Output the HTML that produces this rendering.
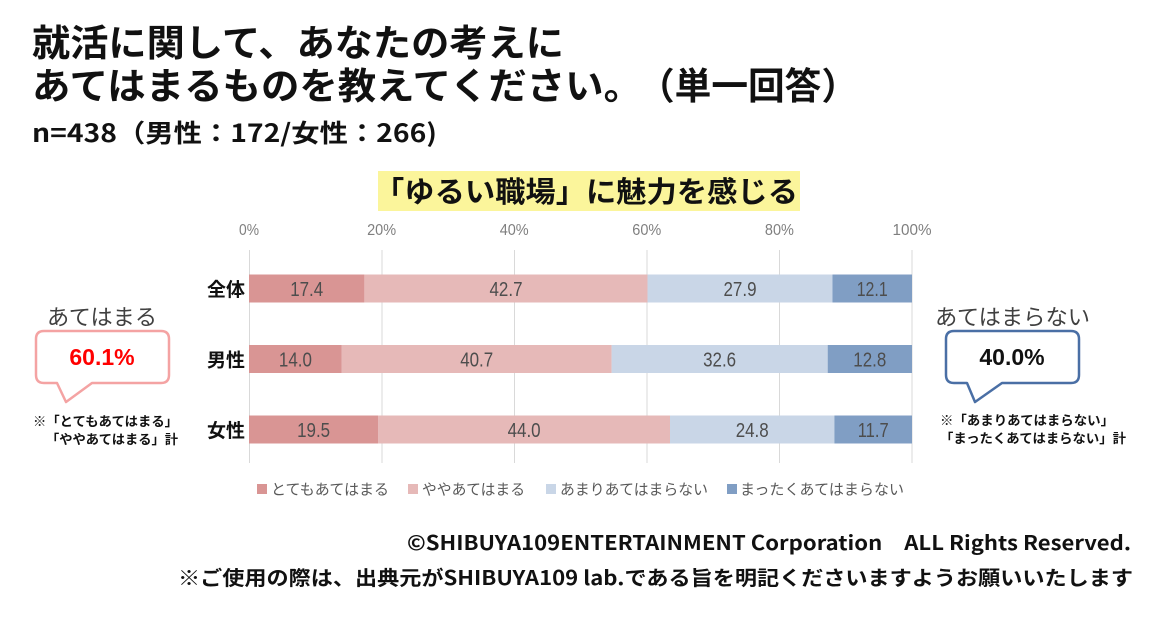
<!DOCTYPE html>
<html lang="ja">
<head>
<meta charset="utf-8">
<style>
  html,body{margin:0;padding:0;background:#fff;}
  svg{display:block;}
  .jp{font-family:"Noto Sans CJK JP","Liberation Sans",sans-serif;}
  .num{font-family:"Liberation Sans",sans-serif;}
</style>
</head>
<body>
<svg width="1160" height="624" viewBox="0 0 1160 624" xmlns="http://www.w3.org/2000/svg">
  <rect width="1160" height="624" fill="#ffffff"/>

  <!-- Title -->
  <text class="jp" x="32" y="56" font-size="37" font-weight="bold" fill="#111" textLength="532" lengthAdjust="spacingAndGlyphs">就活に関して、あなたの考えに</text>
  <text class="jp" x="32" y="99" font-size="37" font-weight="bold" fill="#111" textLength="610" lengthAdjust="spacingAndGlyphs">あてはまるものを教えてください。</text>
  <text class="jp" x="638" y="99" font-size="37" font-weight="bold" fill="#111" textLength="220" lengthAdjust="spacingAndGlyphs">（単一回答）</text>
  <text class="jp" x="32" y="142" font-size="25" font-weight="bold" fill="#111" textLength="405" lengthAdjust="spacingAndGlyphs">n=438（男性：172/女性：266)</text>

  <!-- Subtitle highlight -->
  <rect x="378" y="171" width="422" height="40" fill="#fbf59b"/>
  <text class="jp" x="374" y="202" font-size="29" font-weight="bold" fill="#111" textLength="424" lengthAdjust="spacingAndGlyphs">「ゆるい職場」に魅力を感じる</text>

  <!-- Tick labels -->
  <g class="num" font-size="16" fill="#7f7f7f" text-anchor="middle">
    <text x="249" y="235" textLength="20" lengthAdjust="spacingAndGlyphs">0%</text>
    <text x="381.6" y="235" textLength="29" lengthAdjust="spacingAndGlyphs">20%</text>
    <text x="514.2" y="235" textLength="29" lengthAdjust="spacingAndGlyphs">40%</text>
    <text x="646.8" y="235" textLength="29" lengthAdjust="spacingAndGlyphs">60%</text>
    <text x="779.4" y="235" textLength="29" lengthAdjust="spacingAndGlyphs">80%</text>
    <text x="912" y="235" textLength="39" lengthAdjust="spacingAndGlyphs">100%</text>
  </g>

  <!-- Gridlines -->
  <g stroke="#d9d9d9" stroke-width="1">
    <line x1="249.5" y1="250" x2="249.5" y2="463"/>
    <line x1="382" y1="250" x2="382" y2="463"/>
    <line x1="514.5" y1="250" x2="514.5" y2="463"/>
    <line x1="647" y1="250" x2="647" y2="463"/>
    <line x1="779.5" y1="250" x2="779.5" y2="463"/>
    <line x1="912" y1="250" x2="912" y2="463"/>
  </g>

  <!-- Bars: 全体 -->
  <rect x="249" y="274.5" width="115.4" height="28" fill="#d99594"/>
  <rect x="364.4" y="274.5" width="283.1" height="28" fill="#e6b9b8"/>
  <rect x="647.5" y="274.5" width="185" height="28" fill="#c9d6e7"/>
  <rect x="832.5" y="274.5" width="79.5" height="28" fill="#809ec4"/>
  <!-- 男性 -->
  <rect x="249" y="345" width="92.8" height="28" fill="#d99594"/>
  <rect x="341.8" y="345" width="269.8" height="28" fill="#e6b9b8"/>
  <rect x="611.6" y="345" width="216.1" height="28" fill="#c9d6e7"/>
  <rect x="827.7" y="345" width="84.3" height="28" fill="#809ec4"/>
  <!-- 女性 -->
  <rect x="249" y="415.5" width="129.3" height="28" fill="#d99594"/>
  <rect x="378.3" y="415.5" width="291.7" height="28" fill="#e6b9b8"/>
  <rect x="670" y="415.5" width="164.4" height="28" fill="#c9d6e7"/>
  <rect x="834.4" y="415.5" width="77.6" height="28" fill="#809ec4"/>

  <!-- Bar values -->
  <g class="num" font-size="20" fill="#4d4d4d" text-anchor="middle">
    <text x="306.7" y="296" textLength="33" lengthAdjust="spacingAndGlyphs">17.4</text>
    <text x="506" y="296" textLength="33" lengthAdjust="spacingAndGlyphs">42.7</text>
    <text x="740" y="296" textLength="33" lengthAdjust="spacingAndGlyphs">27.9</text>
    <text x="872.2" y="296" textLength="31" lengthAdjust="spacingAndGlyphs">12.1</text>

    <text x="295.4" y="366.5" textLength="33" lengthAdjust="spacingAndGlyphs">14.0</text>
    <text x="476.7" y="366.5" textLength="33" lengthAdjust="spacingAndGlyphs">40.7</text>
    <text x="719.6" y="366.5" textLength="33" lengthAdjust="spacingAndGlyphs">32.6</text>
    <text x="869.8" y="366.5" textLength="33" lengthAdjust="spacingAndGlyphs">12.8</text>

    <text x="313.6" y="437" textLength="33" lengthAdjust="spacingAndGlyphs">19.5</text>
    <text x="524.1" y="437" textLength="33" lengthAdjust="spacingAndGlyphs">44.0</text>
    <text x="752.2" y="437" textLength="33" lengthAdjust="spacingAndGlyphs">24.8</text>
    <text x="873.2" y="437" textLength="31" lengthAdjust="spacingAndGlyphs">11.7</text>
  </g>

  <!-- Category labels -->
  <g class="jp" font-size="19" font-weight="bold" fill="#111" text-anchor="end">
    <text x="245" y="296">全体</text>
    <text x="245" y="366.5">男性</text>
    <text x="245" y="437">女性</text>
  </g>

  <!-- Legend -->
  <rect x="257" y="484" width="10" height="10" fill="#d99594"/>
  <rect x="408" y="484" width="10" height="10" fill="#e6b9b8"/>
  <rect x="546" y="484" width="10" height="10" fill="#c9d6e7"/>
  <rect x="727" y="484" width="10" height="10" fill="#809ec4"/>
  <g class="jp" font-size="14.8" fill="#595959">
    <text x="271" y="494.5" textLength="118" lengthAdjust="spacingAndGlyphs">とてもあてはまる</text>
    <text x="422" y="494.5" textLength="103" lengthAdjust="spacingAndGlyphs">ややあてはまる</text>
    <text x="560" y="494.5" textLength="148" lengthAdjust="spacingAndGlyphs">あまりあてはまらない</text>
    <text x="740" y="494.5" textLength="164" lengthAdjust="spacingAndGlyphs">まったくあてはまらない</text>
  </g>

  <!-- Left balloon -->
  <text class="jp" x="47" y="325" font-size="22" fill="#404040" textLength="110" lengthAdjust="spacingAndGlyphs">あてはまる</text>
  <path d="M44,331 H161 Q169,331 169,339 V375 Q169,383 161,383 H92 L66,402 L57,383 H44 Q36,383 36,375 V339 Q36,331 44,331 Z" fill="#ffffff" stroke="#f4a3a3" stroke-width="2.5" stroke-linejoin="round"/>
  <text x="102" y="365" font-family="'Liberation Sans',sans-serif" font-size="23" font-weight="bold" fill="#ff0000" text-anchor="middle">60.1%</text>
  <g class="jp" font-size="13" font-weight="bold" fill="#111" text-anchor="end">
    <text x="178" y="426" textLength="145" lengthAdjust="spacingAndGlyphs">※「とてもあてはまる」</text>
    <text x="178" y="444" textLength="132" lengthAdjust="spacingAndGlyphs">「ややあてはまる」計</text>
  </g>

  <!-- Right balloon -->
  <text class="jp" x="935" y="325" font-size="22" fill="#404040" textLength="155" lengthAdjust="spacingAndGlyphs">あてはまらない</text>
  <path d="M954,331 H1071 Q1079,331 1079,339 V375 Q1079,383 1071,383 H1002 L975,402 L967,383 H954 Q946,383 946,375 V339 Q946,331 954,331 Z" fill="#ffffff" stroke="#4a6fa5" stroke-width="2.5" stroke-linejoin="round"/>
  <text x="1012" y="365" font-family="'Liberation Sans',sans-serif" font-size="23" font-weight="bold" fill="#111" text-anchor="middle">40.0%</text>
  <g class="jp" font-size="13" font-weight="bold" fill="#111">
    <text x="940" y="425" textLength="174" lengthAdjust="spacingAndGlyphs">※「あまりあてはまらない」</text>
    <text x="940" y="443" textLength="186" lengthAdjust="spacingAndGlyphs">「まったくあてはまらない」計</text>
  </g>

  <!-- Footer -->
  <text class="jp" x="407" y="550" font-size="20" font-weight="bold" fill="#111" textLength="724" lengthAdjust="spacingAndGlyphs">©SHIBUYA109ENTERTAINMENT Corporation　ALL Rights Reserved.</text>
  <text class="jp" x="178" y="585" font-size="20" font-weight="bold" fill="#111" textLength="955" lengthAdjust="spacingAndGlyphs">※ご使用の際は、出典元がSHIBUYA109 lab.である旨を明記くださいますようお願いいたします</text>
</svg>
</body>
</html>
